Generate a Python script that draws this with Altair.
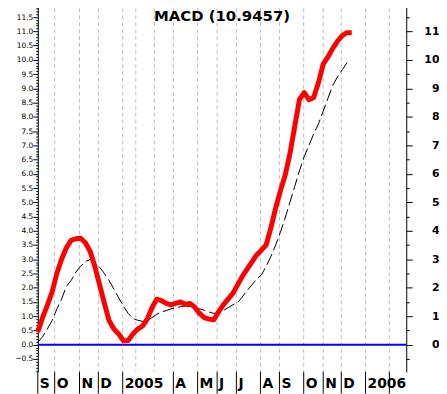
import altair as alt
import pandas as pd

# ---- data (weekly index) ----
weeks = list(range(67))
macd = [0.45, 0.95, 1.38, 1.85, 2.5, 3.0, 3.4, 3.66, 3.72, 3.74,
        3.58, 3.28, 2.75, 2.1, 1.45, 0.84, 0.55, 0.38, 0.14, 0.15,
        0.38, 0.55, 0.65, 0.9, 1.3, 1.6, 1.55, 1.45, 1.4, 1.45,
        1.5, 1.42, 1.45, 1.32, 1.1, 0.95, 0.9, 0.88, 1.15, 1.4,
        1.6, 1.8, 2.1, 2.4, 2.65, 2.9, 3.15, 3.32, 3.5, 4.1,
        4.8, 5.4, 5.95, 6.7, 7.65, 8.6, 8.85, 8.6, 8.68, 9.2,
        9.85, 10.1, 10.4, 10.65, 10.85, 10.95, 10.9457]
signal = [0.08, 0.28, 0.55, 0.85, 1.25, 1.6, 2.05, 2.25, 2.55, 2.75,
          2.92, 2.99, 2.88, 2.72, 2.5, 2.25, 1.95, 1.65, 1.35, 1.1,
          0.92, 0.86, 0.82, 0.84, 0.95, 1.07, 1.15, 1.2, 1.26, 1.3,
          1.33, 1.36, 1.34, 1.3, 1.26, 1.21, 1.15, 1.1, 1.13, 1.2,
          1.3, 1.4, 1.48, 1.68, 1.9, 2.1, 2.3, 2.45, 2.75, 3.1,
          3.5, 3.95, 4.45, 5.0, 5.55, 6.1, 6.6, 7.0, 7.4, 7.75,
          8.2, 8.65, 9.1, 9.4, 9.65, 9.9]

# month gridlines (week positions) and labelled month separators
grid_weeks = [3.55, 8.77, 12.73, 17.85, 20.6, 24.5, 28.5, 33.6, 37.7,
              41.75, 46.8, 50.8, 55.9, 60.0, 63.8, 68.9, 73.9]
sep_weeks = [0, 3.55, 8.77, 12.73, 17.85, 28.5, 33.6, 37.7, 41.75,
             46.8, 50.8, 55.9, 60.0, 63.8, 68.9, 73.9]
sep_labels = ["S", "O", "N", "D", "2005", "A", "M", "J", "J", "A",
              "S", "O", "N", "D", "2006", ""]

left_ticks = [round(-0.9 + 0.1 * i, 1) for i in range(130)]
right_ticks = [round(-0.5 + 0.5 * i, 1) for i in range(26)]

title_text = f"MACD ({macd[-1]})"

X_DOM = [0, 77.45]
Y_DOM = [-0.95, 12.05]
W, H = 371, 373

xs = alt.Scale(domain=X_DOM, nice=False, zero=False)
ys = alt.Scale(domain=Y_DOM, nice=False, zero=False)

df_macd = pd.DataFrame({"week": weeks, "value": macd})
df_sig = pd.DataFrame({"week": weeks[:len(signal)], "value": signal})
df_grid = pd.DataFrame({"week": grid_weeks})
df_zero = pd.DataFrame({"value": [0]})
df_title = pd.DataFrame({"t": [title_text]})
df_lab = pd.DataFrame({"week": sep_weeks, "label": sep_labels})

half_test = "abs(datum.value*2 - round(datum.value*2)) < 0.01"
int_test = "abs(datum.value - round(datum.value)) < 0.01"

grid = alt.Chart(df_grid).mark_rule(
    color="#bdbdbd", strokeDash=[4, 3], strokeWidth=1
).encode(
    x=alt.X("week:Q", scale=xs, axis=alt.Axis(
        values=sep_weeks, labels=False, ticks=False,
        domainColor="black", grid=False, title=None))
)

septicks = alt.Chart(df_lab).mark_rule(color="black", strokeWidth=1).encode(
    x=alt.X("week:Q", scale=xs, axis=None),
    y=alt.value(H),
    y2=alt.value(H + 22)
)

xlabels = alt.Chart(df_lab).mark_text(
    font="DejaVu Sans", fontWeight="bold", fontSize=14, color="black",
    align="left", baseline="alphabetic", dx=2
).encode(
    x=alt.X("week:Q", scale=xs, axis=None),
    y=alt.value(H + 16),
    text="label:N"
)

zero = alt.Chart(df_zero).mark_rule(color="#0000ff", strokeWidth=2).encode(
    y=alt.Y("value:Q", scale=ys, axis=None)
)

sig = alt.Chart(df_sig).mark_line(
    color="black", strokeWidth=1, strokeDash=[12, 4]
).encode(
    x=alt.X("week:Q", scale=xs, axis=None),
    y=alt.Y("value:Q", scale=ys, axis=alt.Axis(
        orient="right", values=right_ticks,
        tickSize={"condition": {"test": int_test, "value": 6}, "value": 3},
        labelExpr=f"{int_test} && datum.value > -0.1 && datum.value < 11.1 ? format(datum.value, 'd') : ''",
        labelPadding=27, labelAlign="right", labelBaseline="middle",
        labelFont="DejaVu Sans", labelFontWeight="bold", labelFontSize=11,
        labelColor="black", tickColor="black", domainColor="black",
        labelOverlap=False, labelFlush=False, labelBound=False,
        grid=False, title=None))
)

red = alt.Chart(df_macd).mark_line(
    color="#ff0000", strokeWidth=5, strokeJoin="round", strokeCap="butt"
).encode(
    x=alt.X("week:Q", scale=xs, axis=None),
    y=alt.Y("value:Q", scale=ys, axis=alt.Axis(
        orient="left", values=left_ticks,
        tickSize={"condition": {"test": half_test, "value": 5}, "value": 2},
        labelExpr=f"{half_test} && datum.value > -0.6 && datum.value < 11.6 ? format(datum.value, '.1f') : ''",
        labelPadding=0, labelAlign="right", labelBaseline="middle",
        labelFont="DejaVu Sans", labelFontSize=7.5,
        labelColor="black", tickColor="black", domainColor="black",
        labelOverlap=False, labelFlush=False, labelBound=False,
        grid=False, title=None))
)

title = alt.Chart(df_title).mark_text(
    font="DejaVu Sans", fontWeight="bold", fontSize=15, color="black",
    align="center", baseline="alphabetic"
).encode(
    text="t:N", x=alt.value(W / 2), y=alt.value(19.5)
)

chart = alt.layer(grid, zero, sig, red, septicks, xlabels, title).resolve_scale(
    y="shared"
).resolve_axis(
    y="independent"
).properties(
    width=W, height=H,
    autosize=alt.AutoSizeParams(type="none"),
    padding={"left": 30, "top": -8, "right": 33, "bottom": 21},
    background="white"
).configure_view(stroke=None)

chart.save("out.html", embed_options={"renderer": "svg", "actions": False})
